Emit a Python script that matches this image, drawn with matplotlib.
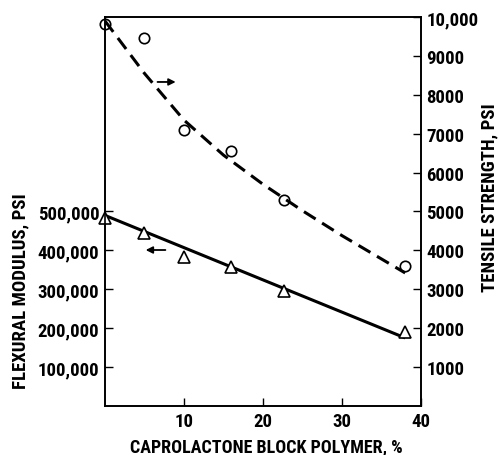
import matplotlib
matplotlib.use("Agg")
import matplotlib.pyplot as plt

# measured points
pct = [0, 5, 10, 16, 22.7, 38]
tensile = [9820, 9460, 7100, 6560, 5300, 3600]
flexural = [483000, 445000, 382000, 358000, 295000, 190000]

# drawn trend curves
tens_fit_x = [0, 5, 10, 15, 20, 25, 30, 35, 38]
tens_fit_y = [9900, 8550, 7350, 6450, 5700, 5020, 4380, 3780, 3420]
flex_fit_x = [0, 38]
flex_fit_y = [490000, 175000]

flex_ticks = [100000, 200000, 300000, 400000, 500000]
flex_labels = ["100,000", "200,000", "300,000", "400,000", "500,000"]
tens_ticks = [1000, 2000, 3000, 4000, 5000, 6000, 7000, 8000, 9000, 10000]
tens_labels = ["1000", "2000", "3000", "4000", "5000", "6000", "7000", "8000", "9000", "10,000"]
x_ticks = [10, 20, 30, 40]

plt.rcParams['font.family'] = ['Roboto Condensed', 'DejaVu Sans']
plt.rcParams['font.weight'] = 'bold'
plt.rcParams['axes.labelweight'] = 'bold'

fig = plt.figure(figsize=(4.98, 4.56), dpi=100)
ax = fig.add_axes([0.2108, 0.1075, 0.6345, 0.853])
ax2 = ax.twinx()

ax.plot(flex_fit_x, flex_fit_y, color='black', lw=2.2, solid_capstyle='butt')
ax.plot(pct, flexural, ls='none', marker='^', ms=9, mfc='white', mec='black', mew=1.2,
        clip_on=False, zorder=5)
ax2.plot(tens_fit_x, tens_fit_y, color='black', lw=2.2, ls=(0, (4.5, 2.5)))
ax2.plot(pct, tensile, ls='none', marker='o', ms=7.5, mfc='none', mec='black', mew=1.2,
         clip_on=False, zorder=5)

ax.set_xlim(0, 40)
ax.set_ylim(0, 1000000)
ax2.set_ylim(0, 10000)

ax.set_xticks(x_ticks)
ax.set_yticks(flex_ticks)
ax.set_yticklabels(flex_labels)
ax2.set_yticks(tens_ticks)
ax2.set_yticklabels(tens_labels)

for a in (ax, ax2):
    a.tick_params(direction='in', length=6, width=1.0, labelsize=13.5, pad=4)
    for s in a.spines.values():
        s.set_linewidth(1.2)

ax.annotate('', xy=(9.3, 8330), xytext=(6.3, 8330), xycoords=ax2.transData,
            textcoords=ax2.transData,
            arrowprops=dict(arrowstyle='-|>', color='black', lw=1.3, mutation_scale=10))
ax.annotate('', xy=(4.8, 401000), xytext=(8.0, 401000),
            arrowprops=dict(arrowstyle='-|>', color='black', lw=1.3, mutation_scale=10))

fig.text(266 / 498, 1 - 447 / 456, 'CAPROLACTONE BLOCK POLYMER, %', ha='center', va='center',
         fontsize=13, fontweight='bold')
fig.text(0.04, 1 - 291 / 456, 'FLEXURAL MODULUS, PSI', rotation=90, ha='center', va='center',
         fontsize=13.5, fontweight='bold')
fig.text(0.982, 1 - 198 / 456, 'TENSILE STRENGTH, PSI', rotation=90, ha='center', va='center',
         fontsize=13.5, fontweight='bold')

fig.savefig('out.png', dpi=100)
